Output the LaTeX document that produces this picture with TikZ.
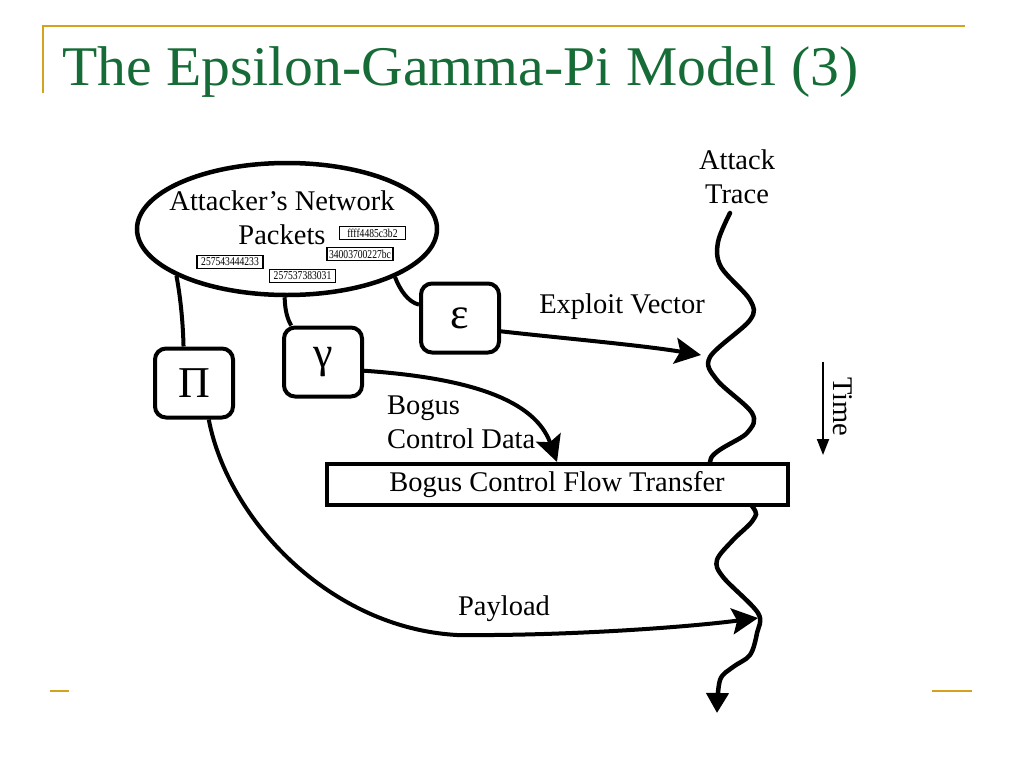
\documentclass[tikz,border=0pt]{standalone}
\usepackage{fontspec}
\setmainfont{Liberation Serif}
\usetikzlibrary{arrows.meta,positioning,shapes.geometric}
\definecolor{titlegreen}{RGB}{22,108,54}
\definecolor{rulegold}{RGB}{212,162,30}

\begin{document}
\begin{tikzpicture}[x=1pt,y=-1pt,
    lbl/.style={font=\fontsize{28.5}{34}\selectfont, inner sep=0pt},
    greek/.style={draw, line width=4pt, rounded corners=11pt, minimum width=78pt,
                  minimum height=69pt, inner sep=0pt, font=\fontsize{44}{44}\selectfont},
    pkt/.style={draw, line width=1.2pt, minimum width=66pt, minimum height=13pt,
                inner sep=0pt, font=\fontsize{12}{12}\selectfont},
    link/.style={line width=4pt},
    flow/.style={line width=4pt, -{Stealth[length=26pt,width=26pt,inset=5pt]}},
    gold/.style={rulegold, line width=2pt}]
    \fill[white] (0,0) rectangle (1024,768);
    \useasboundingbox (0,0) rectangle (1024,768);

    % slide frame and title
    \draw[gold] (43,93) -- (43,26) -- (965,26);
    \draw[gold] (50,691) -- (69,691);
    \draw[gold] (932,691) -- (972,691);
    \node[anchor=base west, inner sep=0pt, text=titlegreen] (title) at (62,85)
        {\resizebox{796pt}{\height}{\fontsize{56}{60}\selectfont The Epsilon-Gamma-Pi Model (3)}};

    % attacker's packets
    \node[draw, ellipse, line width=4.5pt, minimum width=300pt, minimum height=132pt,
          inner sep=0pt] (atk) at (287,229) {};
    \node[lbl, align=center, anchor=base] (atktext) at (282,244) {Attacker’s Network\\Packets};
    \node[pkt] (p1) at (372.5,233) {\scalebox{.8}[1]{ffff4485c3b2}};
    \node[pkt] (p2) at (360,254) {\scalebox{.8}[1]{34003700227bc}};
    \node[pkt] (p3) at (230,262) {\scalebox{.8}[1]{257543444233}};
    \node[pkt] (p4) at (302.5,276) {\scalebox{.8}[1]{257537383031}};

    % the three parts
    \node[greek] (eps) at (460,318) {\raisebox{-5pt}{ε}};
    \node[greek] (gam) at (323,362) {γ};
    \node[greek] (pi) at (194,383) {Π};

    \draw[link] (atk.-24) .. controls (400,290) and (408,302) .. (eps.162);
    \draw[link] (atk.268) .. controls (285,312) and (288,320) .. (gam.131);
    \draw[link] (atk.203) .. controls (181,300) and (183,325) .. (pi.106);

    % attack trace
    \coordinate (hitE) at (701,355);
    \coordinate (hitP) at (758,618);
    \draw[line width=4.5pt, line cap=round, -{Triangle[length=20pt,width=22pt]}]
        plot[smooth, tension=0.55] coordinates {(730,213) (718,242) (721,267) (750,300)
        (750,320) (710,357) (717,380) (752,413) (747,433) (710,462) (752,506) (753,520)
        (733,540) (717,560) (723,577) (758,613) (757,633) (750,655) (733,667) (720,680)
        (717,713)};
    \node[lbl, align=center, anchor=base] (trace) at (737,203) {Attack\\Trace};

    % control flow transfer
    \node[lbl, draw, fill=white, line width=4pt, minimum width=461pt, minimum height=41pt]
        (cft) at (557,484.5) {Bogus Control Flow Transfer};

    \draw[flow] (eps.-18) .. controls (560,338) and (640,345) .. (hitE);
    \node[lbl, anchor=base] (xv) at (622,313) {Exploit Vector};
    \draw[flow] (gam.-12) .. controls (470,378) and (535,400) .. (cft.north);
    \node[lbl, align=left, anchor=base west] (bcd) at (387,448) {Bogus\\Control Data};
    \draw[link] (pi.-68) .. controls (228,520) and (330,628) .. (457,635);
    \draw[flow] (457,635) .. controls (560,636) and (680,628) .. (hitP);
    \node[lbl, anchor=base] (pay) at (504,615) {Payload};

    % time
    \coordinate (t0) at (823,362);
    \coordinate (t1) at (823,455);
    \draw[line width=2pt, -{Triangle[length=16pt,width=12pt]}] (t0) -- (t1);
    \node[lbl, rotate=-90, anchor=base] (time) at (833,407) {Time};
\end{tikzpicture}
\end{document}
